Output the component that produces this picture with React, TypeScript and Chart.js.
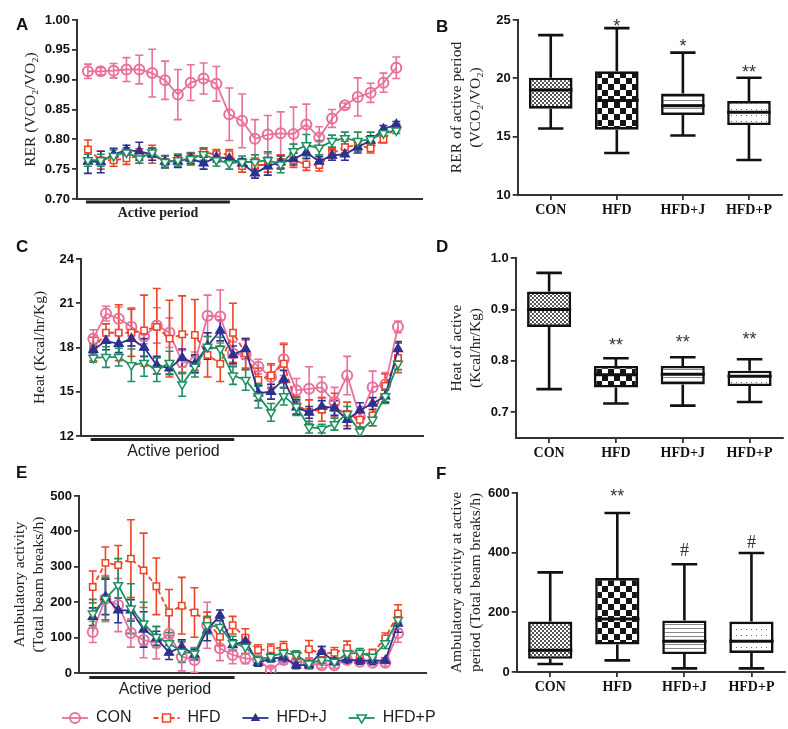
import React, { useEffect, useRef } from 'react';
import { Chart, registerables } from 'chart.js';
Chart.register(...registerables);

// ---------------- DATA ----------------
const hours = [1, 2, 3, 4, 5, 6, 7, 8, 9, 10, 11, 12, 13, 14, 15, 16, 17, 18, 19, 20, 21, 22, 23, 24, 25];
const seriesNames = ['CON', 'HFD', 'HFD+J', 'HFD+P'];

// Panel A: RER
const rerCon = [0.914, 0.914, 0.915, 0.917, 0.917, 0.911, 0.899, 0.875, 0.895, 0.902, 0.893, 0.842, 0.831, 0.801, 0.808, 0.810, 0.809, 0.825, 0.803, 0.835, 0.857, 0.871, 0.878, 0.895, 0.920];
const rerConErr = [0.012, 0.006, 0.012, 0.02, 0.024, 0.04, 0.032, 0.042, 0.03, 0.026, 0.029, 0.044, 0.045, 0.032, 0.032, 0.036, 0.045, 0.034, 0.018, 0.015, 0.004, 0.032, 0.016, 0.016, 0.018];
const rerHfd = [0.783, 0.765, 0.765, 0.768, 0.772, 0.775, 0.762, 0.765, 0.768, 0.778, 0.775, 0.775, 0.755, 0.757, 0.757, 0.762, 0.765, 0.758, 0.757, 0.776, 0.787, 0.79, 0.785, 0.80, 0.82];
const rerHfdErr = [0.016, 0.015, 0.01, 0.01, 0.012, 0.015, 0.01, 0.01, 0.01, 0.008, 0.008, 0.008, 0.01, 0.01, 0.012, 0.012, 0.012, 0.01, 0.01, 0.008, 0.01, 0.01, 0.008, 0.006, 0.005];
const rerJ = [0.763, 0.762, 0.775, 0.782, 0.78, 0.775, 0.763, 0.763, 0.768, 0.76, 0.77, 0.768, 0.76, 0.743, 0.755, 0.762, 0.767, 0.778, 0.763, 0.773, 0.775, 0.787, 0.798, 0.817, 0.825];
const rerJErr = [0.02, 0.018, 0.01, 0.008, 0.015, 0.01, 0.01, 0.01, 0.008, 0.01, 0.008, 0.008, 0.008, 0.008, 0.015, 0.01, 0.01, 0.01, 0.008, 0.008, 0.01, 0.01, 0.008, 0.006, 0.005];
const rerP = [0.765, 0.765, 0.772, 0.778, 0.768, 0.778, 0.762, 0.765, 0.767, 0.775, 0.765, 0.76, 0.762, 0.762, 0.765, 0.758, 0.78, 0.79, 0.786, 0.797, 0.802, 0.797, 0.80, 0.81, 0.815];
const rerPErr = [0.01, 0.01, 0.01, 0.008, 0.008, 0.008, 0.01, 0.01, 0.01, 0.01, 0.01, 0.01, 0.01, 0.012, 0.014, 0.014, 0.012, 0.018, 0.012, 0.01, 0.01, 0.015, 0.012, 0.006, 0.005];

// Panel C: Heat
const heatCon = [18.6, 20.3, 19.95, 19.4, 18.75, 19.5, 19.0, 17.0, 17.0, 20.15, 20.1, 17.6, 17.5, 16.7, 16.0, 17.2, 15.1, 15.2, 15.3, 14.3, 16.1, 13.3, 15.3, 15.5, 19.4];
const heatConErr = [0.6, 0.5, 0.8, 1.3, 0.5, 1.2, 1.0, 0.8, 0.7, 1.4, 1.8, 0.8, 1.0, 0.5, 0.8, 1.1, 0.8, 1.5, 0.7, 1.0, 1.3, 0.7, 1.1, 0.8, 0.4];
const heatHfd = [17.9, 19.0, 19.0, 19.0, 19.15, 19.4, 18.6, 18.9, 18.85, 17.5, 16.9, 19.0, 17.6, 15.8, 16.1, 16.9, 14.1, 13.65, 13.8, 13.9, 13.5, 13.1, 13.4, 15.4, 17.3];
const heatHfdErr = [0.8, 0.6, 1.9, 1.6, 2.4, 2.6, 2.6, 2.6, 2.4, 1.5, 1.2, 2.0, 1.0, 0.8, 0.8, 1.3, 0.6, 0.8, 0.8, 1.0, 0.8, 0.6, 0.7, 0.8, 1.0];
const heatJ = [17.85, 18.45, 18.25, 18.6, 18.0, 16.8, 16.6, 17.3, 16.9, 18.1, 19.15, 17.5, 17.9, 14.9, 15.0, 15.85, 13.95, 13.6, 14.0, 13.9, 13.1, 13.75, 14.2, 14.7, 17.9];
const heatJErr = [0.4, 0.6, 0.6, 0.5, 0.6, 0.6, 0.4, 0.6, 0.6, 0.9, 0.7, 0.6, 0.7, 0.5, 0.5, 0.6, 0.5, 0.4, 0.4, 0.5, 0.6, 0.5, 0.4, 0.4, 0.5];
const heatP = [17.3, 17.35, 17.35, 16.8, 16.95, 16.5, 16.95, 15.5, 16.7, 18.05, 17.9, 16.1, 15.8, 14.7, 13.6, 14.7, 14.0, 12.6, 12.5, 12.8, 13.5, 12.3, 13.1, 14.7, 16.9];
const heatPErr = [0.3, 0.7, 0.6, 1.1, 0.9, 0.8, 0.8, 0.8, 0.7, 0.7, 0.8, 0.6, 0.7, 0.8, 0.6, 0.6, 0.6, 0.4, 0.3, 0.4, 0.5, 0.3, 0.4, 0.5, 0.4];

// Panel E: Ambulatory activity
const ambCon = [116, 210, 192, 113, 93, 85, 110, 46, 37, 135, 70, 51, 41, 37, 8, 37, 32, 27, 22, 22, 37, 32, 29, 29, 112];
const ambConErr = [30, 65, 75, 40, 50, 45, 60, 40, 35, 65, 35, 25, 15, 10, 10, 12, 10, 10, 8, 8, 10, 8, 8, 10, 25];
const ambHfd = [243, 311, 305, 323, 290, 245, 171, 190, 171, 147, 102, 135, 100, 65, 67, 74, 51, 67, 55, 57, 70, 51, 57, 98, 168];
const ambHfdErr = [45, 45, 55, 110, 105, 80, 65, 80, 70, 25, 25, 25, 25, 15, 15, 15, 10, 25, 20, 15, 20, 10, 10, 15, 25];
const ambJ = [159, 215, 177, 177, 123, 98, 58, 74, 52, 121, 163, 79, 90, 29, 41, 44, 22, 22, 60, 32, 38, 35, 35, 35, 140];
const ambJErr = [25, 50, 35, 30, 50, 20, 20, 20, 15, 30, 15, 15, 12, 10, 10, 12, 10, 10, 15, 10, 10, 10, 10, 8, 25];
const ambP = [168, 210, 248, 182, 140, 102, 84, 60, 55, 135, 130, 84, 74, 37, 46, 57, 51, 27, 37, 32, 55, 57, 46, 84, 150];
const ambPErr = [40, 60, 75, 70, 60, 30, 30, 30, 15, 25, 25, 20, 20, 10, 10, 10, 12, 10, 10, 10, 10, 12, 10, 15, 25];

// Box plots
const groups = ['CON', 'HFD', 'HFD+J', 'HFD+P'];
const rerBoxMin = [15.7, 13.6, 15.1, 13.0];
const rerBoxQ1 = [17.4, 15.6, 16.85, 16.0];
const rerBoxMed = [19.0, 18.1, 17.65, 17.1];
const rerBoxQ3 = [20.05, 20.6, 18.7, 18.05];
const rerBoxMax = [23.7, 24.3, 22.2, 20.05];
const rerSig = ['', '*', '*', '**'];
const rerSigAt = [0, 24.75, 23.0, 20.8];

const heatBoxMin = [0.745, 0.717, 0.713, 0.72];
const heatBoxQ1 = [0.866, 0.748, 0.754, 0.751];
const heatBoxMed = [0.90, 0.773, 0.774, 0.77];
const heatBoxQ3 = [0.935, 0.79, 0.79, 0.781];
const heatBoxMax = [0.971, 0.805, 0.807, 0.803];
const heatSig = ['', '**', '**', '**'];
const heatSigAt = [0, 0.837, 0.843, 0.848];

const ambBoxMin = [27, 39, 12, 12];
const ambBoxQ1 = [44, 92, 60, 64];
const ambBoxMed = [73, 178, 103, 103];
const ambBoxQ3 = [169, 315, 173, 169];
const ambBoxMax = [334, 533, 361, 399];
const ambSig = ['', '**', '#', '#'];
const ambSigAt = [0, 600, 404, 432];

const activeStartA = 0.85;
const activeEndA = 12.05;

// ---------------- STYLE ----------------
const COLORS = ['#E8709C', '#EE4426', '#2D3190', '#1F9060'];
const AXIS = '#333';
const SANS = "'Liberation Sans', Arial, sans-serif";
const SERIF = "'Liberation Serif', 'Times New Roman', serif";

function drawMarker(ctx: CanvasRenderingContext2D, kind: number, x: number, y: number, r: number, color: string) {
  ctx.save();
  ctx.strokeStyle = color;
  ctx.fillStyle = color;
  ctx.lineWidth = kind === 0 ? 2 : 1.5;
  ctx.setLineDash([]);
  ctx.beginPath();
  if (kind === 0) {
    ctx.arc(x, y, r, 0, Math.PI * 2);
    ctx.stroke();
  } else if (kind === 1) {
    ctx.rect(x - r * 0.8, y - r * 0.8, r * 1.6, r * 1.6);
    ctx.fillStyle = '#fff';
    ctx.fill();
    ctx.stroke();
  } else if (kind === 2) {
    ctx.moveTo(x, y - r);
    ctx.lineTo(x + r * 0.95, y + r * 0.6);
    ctx.lineTo(x - r * 0.95, y + r * 0.6);
    ctx.closePath();
    ctx.fill();
  } else {
    ctx.moveTo(x, y + r);
    ctx.lineTo(x + r * 0.95, y - r * 0.6);
    ctx.lineTo(x - r * 0.95, y - r * 0.6);
    ctx.closePath();
    ctx.fillStyle = '#fff';
    ctx.fill();
    ctx.stroke();
  }
  ctx.restore();
}

const errorBarPlugin = {
  id: 'errorBars',
  beforeDatasetsDraw(chart: any) {
    const { ctx, chartArea } = chart;
    const y = chart.scales.y;
    ctx.save();
    ctx.beginPath();
    ctx.rect(chartArea.left - 10, chartArea.top - 10, chartArea.right - chartArea.left + 20, chartArea.bottom - chartArea.top + 10);
    ctx.clip();
    chart.data.datasets.forEach((ds: any, di: number) => {
      if (!ds.errors) return;
      const meta = chart.getDatasetMeta(di);
      ctx.strokeStyle = ds.borderColor;
      ctx.lineWidth = 1.6;
      ctx.setLineDash([]);
      meta.data.forEach((pt: any, i: number) => {
        const v = ds.data[i].y;
        const e = ds.errors[i];
        const px = pt.x;
        const top = y.getPixelForValue(v + e);
        const bot = y.getPixelForValue(v - e);
        ctx.beginPath();
        ctx.moveTo(px, top);
        ctx.lineTo(px, bot);
        ctx.moveTo(px - 4, top);
        ctx.lineTo(px + 4, top);
        ctx.moveTo(px - 4, bot);
        ctx.lineTo(px + 4, bot);
        ctx.stroke();
      });
    });
    ctx.restore();
  },
};

const activePlugin = {
  id: 'activePeriod',
  afterDraw(chart: any, _args: any, opts: any) {
    if (!opts || opts.start === undefined) return;
    const { ctx, chartArea } = chart;
    const x = chart.scales.x;
    const x1 = x.getPixelForValue(opts.start);
    const x2 = x.getPixelForValue(opts.end);
    const yb = chartArea.bottom + opts.gap;
    ctx.save();
    ctx.strokeStyle = '#222';
    ctx.lineWidth = 3;
    ctx.beginPath();
    ctx.moveTo(x1, yb);
    ctx.lineTo(x2, yb);
    ctx.stroke();
    ctx.fillStyle = '#222';
    ctx.font = opts.font;
    ctx.textAlign = 'center';
    ctx.textBaseline = 'middle';
    ctx.fillText(opts.text, (x1 + x2) / 2 + opts.textShift, yb + opts.textGap);
    ctx.restore();
  },
};

const legendPlugin = {
  id: 'customLegend',
  afterDraw(chart: any, _args: any, opts: any) {
    if (!opts || !opts.show) return;
    const { ctx } = chart;
    let x = opts.x;
    const y = opts.y;
    ctx.save();
    ctx.font = `16px ${SANS}`;
    ctx.textBaseline = 'middle';
    chart.data.datasets.forEach((ds: any, i: number) => {
      const len = 26;
      ctx.strokeStyle = ds.borderColor;
      ctx.lineWidth = 1.8;
      ctx.setLineDash(ds.borderDash || []);
      ctx.beginPath();
      ctx.moveTo(x, y);
      ctx.lineTo(x + len, y);
      ctx.stroke();
      ctx.setLineDash([]);
      drawMarker(ctx, i, x + len / 2, y, 5, ds.borderColor);
      ctx.fillStyle = '#222';
      ctx.fillText(ds.label, x + len + 8, y);
      x += len + 8 + ctx.measureText(ds.label).width + 22;
    });
    ctx.restore();
  },
};

const boxPlugin = {
  id: 'boxWhiskers',
  afterDatasetsDraw(chart: any, _args: any, opts: any) {
    if (!opts || !opts.min) return;
    const { ctx } = chart;
    const y = chart.scales.y;
    const meta = chart.getDatasetMeta(0);
    ctx.save();
    ctx.strokeStyle = '#111';
    meta.data.forEach((bar: any, i: number) => {
      const cx = bar.x;
      const half = bar.width / 2;
      const cap = bar.width * 0.29;
      const pMin = y.getPixelForValue(opts.min[i]);
      const pMax = y.getPixelForValue(opts.max[i]);
      const pQ1 = y.getPixelForValue(opts.q1[i]);
      const pQ3 = y.getPixelForValue(opts.q3[i]);
      const pMed = y.getPixelForValue(opts.med[i]);
      ctx.lineWidth = 2.6;
      ctx.beginPath();
      ctx.moveTo(cx, pQ3);
      ctx.lineTo(cx, pMax);
      ctx.moveTo(cx - cap, pMax);
      ctx.lineTo(cx + cap, pMax);
      ctx.moveTo(cx, pQ1);
      ctx.lineTo(cx, pMin);
      ctx.moveTo(cx - cap, pMin);
      ctx.lineTo(cx + cap, pMin);
      ctx.stroke();
      ctx.lineWidth = 3;
      ctx.beginPath();
      ctx.moveTo(cx - half, pMed);
      ctx.lineTo(cx + half, pMed);
      ctx.stroke();
      if (opts.sig[i]) {
        const isHash = opts.sig[i] === '#';
        ctx.fillStyle = '#333';
        ctx.font = isHash ? `18px ${SERIF}` : `18px ${SANS}`;
        ctx.textAlign = 'center';
        ctx.textBaseline = 'middle';
        ctx.fillText(opts.sig[i], cx, y.getPixelForValue(opts.sigAt[i]) + (isHash ? 0 : 4));
      }
    });
    ctx.restore();
  },
};

Chart.register(errorBarPlugin, activePlugin, legendPlugin, boxPlugin);

function makePattern(kind: string): CanvasPattern | string {
  const c = document.createElement('canvas');
  const g = c.getContext('2d');
  if (!g) return '#ccc';
  if (kind === 'fine') {
    c.width = 4; c.height = 4;
    g.fillStyle = '#fff'; g.fillRect(0, 0, 4, 4);
    g.fillStyle = '#555'; g.fillRect(0, 0, 2, 2); g.fillRect(2, 2, 2, 2);
  } else if (kind === 'checker') {
    c.width = 12; c.height = 12;
    g.fillStyle = '#fff'; g.fillRect(0, 0, 12, 12);
    g.fillStyle = '#151515'; g.fillRect(0, 0, 6, 6); g.fillRect(6, 6, 6, 6);
  } else if (kind === 'lines') {
    c.width = 4; c.height = 4;
    g.fillStyle = '#fff'; g.fillRect(0, 0, 4, 4);
    g.fillStyle = '#888'; g.fillRect(0, 0, 4, 1);
  } else {
    c.width = 5; c.height = 6;
    g.fillStyle = '#fff'; g.fillRect(0, 0, 5, 6);
    g.fillStyle = '#666'; g.fillRect(1, 1, 1, 1);
  }
  return g.createPattern(c, 'repeat') || '#ccc';
}

function lineConfig(p: any) {
  const series = [p.con, p.hfd, p.j, p.p];
  const errs = [p.conErr, p.hfdErr, p.jErr, p.pErr];
  const datasets = series.map((vals: number[], i: number) => ({
    label: seriesNames[i],
    data: hours.map((h, k) => ({ x: h, y: vals[k] })),
    errors: errs[i],
    borderColor: COLORS[i],
    backgroundColor: COLORS[i],
    borderWidth: 1.8,
    borderDash: i === 1 ? [5, 3] : [],
    pointStyle: i === 0 ? 'circle' : i === 1 ? 'rect' : 'triangle',
    pointRotation: i === 3 ? 180 : 0,
    pointRadius: i === 1 ? 4.5 : 5,
    pointBorderWidth: i === 0 ? 2 : 1.5,
    pointBorderColor: COLORS[i],
    pointBackgroundColor: i === 2 ? COLORS[i] : i === 0 ? 'rgba(255,255,255,0)' : '#fff',
    tension: 0,
    order: [3, 2, 1, 0][i],
  }));
  return {
    type: 'line',
    data: { datasets },
    options: {
      animation: false,
      responsive: false,
      devicePixelRatio: 1,
      layout: { padding: { top: p.padTop, right: p.padRight, left: 0, bottom: 0 } },
      plugins: {
        legend: { display: false },
        tooltip: { enabled: false },
        activePeriod: p.active,
        customLegend: p.legend || { show: false },
      },
      scales: {
        x: {
          type: 'linear',
          min: p.xMin,
          max: p.xMax,
          ticks: { display: false },
          grid: { display: false },
          border: { display: true, color: AXIS, width: 2 },
          afterFit: (s: any) => { s.height = p.xHeight; },
        },
        y: {
          min: p.yMin,
          max: p.yMax,
          ticks: {
            stepSize: p.step,
            callback: (v: any) => Number(v).toFixed(p.dec),
            font: { family: SANS, weight: 'bold', size: 13 },
            color: '#111',
            padding: 2,
          },
          grid: { drawOnChartArea: false, drawTicks: true, tickLength: 5, color: AXIS, lineWidth: 1.8 },
          border: { display: true, color: AXIS, width: 2 },
          title: {
            display: true,
            text: p.title,
            font: { family: SERIF, size: 15.5 },
            color: '#222',
            padding: { top: p.titlePad, bottom: 0 },
          },
          afterFit: (s: any) => { s.width = p.yWidth; },
        },
      },
    },
  };
}

function boxConfig(p: any) {
  const patterns = [makePattern('fine'), makePattern('checker'), makePattern('lines'), makePattern('dots')];
  return {
    type: 'bar',
    data: {
      labels: groups,
      datasets: [{
        data: p.q1.map((v: number, i: number) => [v, p.q3[i]]),
        backgroundColor: patterns,
        borderColor: '#111',
        borderWidth: 2.6,
        borderSkipped: false,
        barPercentage: 0.66,
        categoryPercentage: 1,
      }],
    },
    options: {
      animation: false,
      responsive: false,
      devicePixelRatio: 1,
      layout: { padding: { top: p.padTop, right: p.padRight, left: 0, bottom: 0 } },
      plugins: {
        legend: { display: false },
        tooltip: { enabled: false },
        boxWhiskers: { min: p.min, max: p.max, q1: p.q1, q3: p.q3, med: p.med, sig: p.sig, sigAt: p.sigAt },
      },
      scales: {
        x: {
          ticks: { font: { family: SERIF, weight: 'bold', size: 14 }, color: '#111', padding: 2 },
          grid: { offset: false, drawOnChartArea: false, drawTicks: true, tickLength: 5, color: AXIS, lineWidth: 1.8 },
          border: { display: true, color: AXIS, width: 2 },
          afterFit: (s: any) => { s.height = p.xHeight; },
        },
        y: {
          min: p.yMin,
          max: p.yMax,
          afterBuildTicks: p.ticks ? (s: any) => { s.ticks = p.ticks.map((v: number) => ({ value: v })); } : undefined,
          ticks: {
            stepSize: p.step,
            callback: (v: any) => Number(v).toFixed(p.dec),
            font: { family: SANS, weight: 'bold', size: 13 },
            color: '#111',
            padding: 2,
          },
          grid: { drawOnChartArea: false, drawTicks: true, tickLength: 5, color: AXIS, lineWidth: 1.8 },
          border: { display: true, color: AXIS, width: 2 },
          title: {
            display: true,
            text: p.title,
            font: { family: SERIF, size: 15.5 },
            color: '#222',
            padding: { top: p.titlePad, bottom: 0 },
          },
          afterFit: (s: any) => { s.width = p.yWidth; },
        },
      },
    },
  };
}

function ChartBox({ make, left, top, width, height }: any) {
  const ref = useRef<HTMLCanvasElement>(null);
  useEffect(() => {
    if (!ref.current) return;
    const chart = new Chart(ref.current, make() as any);
    return () => chart.destroy();
  }, []);
  return (
    <canvas
      ref={ref}
      width={width}
      height={height}
      style={{ position: 'absolute', left, top, width, height }}
    />
  );
}

const letterStyle = (left: number, top: number): React.CSSProperties => ({
  position: 'absolute', left, top, font: `bold 17px ${SANS}`, color: '#111', lineHeight: '20px',
});

export default function App() {
  return (
    <div style={{ position: 'absolute', left: 0, top: 0, width: 788, height: 729, background: '#fff', overflow: 'hidden' }}>
      <ChartBox left={0} top={0} width={440} height={225} make={() => lineConfig({
        con: rerCon, conErr: rerConErr, hfd: rerHfd, hfdErr: rerHfdErr, j: rerJ, jErr: rerJErr, p: rerP, pErr: rerPErr,
        yMin: 0.7, yMax: 1.0, step: 0.05, dec: 2, title: 'RER (VCO₂/VO₂)', titlePad: 22,
        xMin: 0.15, xMax: 27.0, padTop: 20, padRight: 18, yWidth: 77, xHeight: 26,
        active: { start: activeStartA, end: activeEndA, gap: 3, textGap: 11, textShift: 0, text: 'Active period', font: `bold 14px ${SERIF}` },
      })} />
      <ChartBox left={0} top={225} width={440} height={235} make={() => lineConfig({
        con: heatCon, conErr: heatConErr, hfd: heatHfd, hfdErr: heatHfdErr, j: heatJ, jErr: heatJErr, p: heatP, pErr: heatPErr,
        yMin: 12, yMax: 24, step: 3, dec: 0, title: 'Heat (Kcal/hr/Kg)', titlePad: 31,
        xMin: 0.03, xMax: 26.97, padTop: 34, padRight: 17, yWidth: 81, xHeight: 24,
        active: { start: 0.79, end: 12.1, gap: 3.5, textGap: 12.5, textShift: 11, text: 'Active period', font: `16px ${SANS}` },
      })} />
      <ChartBox left={0} top={460} width={440} height={269} make={() => lineConfig({
        con: ambCon, conErr: ambConErr, hfd: ambHfd, hfdErr: ambHfdErr, j: ambJ, jErr: ambJErr, p: ambP, pErr: ambPErr,
        yMin: 0, yMax: 500, step: 100, dec: 0, title: ['Ambulatory activity', '(Total beam breaks/h)'], titlePad: 11,
        xMin: -0.08, xMax: 27.2, padTop: 36, padRight: 14, yWidth: 79, xHeight: 56,
        active: { start: 0.73, end: 12.15, gap: 4.5, textGap: 12, textShift: 3, text: 'Active period', font: `16px ${SANS}` },
        legend: { show: true, x: 62, y: 258 },
      })} />
      <ChartBox left={440} top={0} width={348} height={225} make={() => boxConfig({
        min: rerBoxMin, q1: rerBoxQ1, med: rerBoxMed, q3: rerBoxQ3, max: rerBoxMax, sig: rerSig, sigAt: rerSigAt,
        yMin: 10, yMax: 25, step: 5, dec: 0, title: ['RER of active period', '(VCO₂/VO₂)'], titlePad: 8,
        padTop: 20, padRight: 6, yWidth: 77.7, xHeight: 30,
      })} />
      <ChartBox left={440} top={225} width={348} height={235} make={() => boxConfig({
        min: heatBoxMin, q1: heatBoxQ1, med: heatBoxMed, q3: heatBoxQ3, max: heatBoxMax, sig: heatSig, sigAt: heatSigAt,
        yMin: 0.65, yMax: 1.0, step: 0.1, dec: 1, ticks: [0.7, 0.8, 0.9, 1.0], title: ['Heat of active', '(Kcal/hr/Kg)'], titlePad: 8,
        padTop: 33, padRight: 5, yWidth: 75.7, xHeight: 22,
      })} />
      <ChartBox left={440} top={460} width={348} height={240} make={() => boxConfig({
        min: ambBoxMin, q1: ambBoxQ1, med: ambBoxMed, q3: ambBoxQ3, max: ambBoxMax, sig: ambSig, sigAt: ambSigAt,
        yMin: 0, yMax: 600, step: 200, dec: 0, title: ['Ambulatory activity at active', 'period (Total beam breaks/h)'], titlePad: 8,
        padTop: 33, padRight: 3, yWidth: 76.7, xHeight: 28,
      })} />
      <div style={letterStyle(16, 15)}>A</div>
      <div style={letterStyle(16, 237)}>C</div>
      <div style={letterStyle(16, 463)}>E</div>
      <div style={letterStyle(436, 17)}>B</div>
      <div style={letterStyle(436, 237)}>D</div>
      <div style={letterStyle(436, 464)}>F</div>
    </div>
  );
}
